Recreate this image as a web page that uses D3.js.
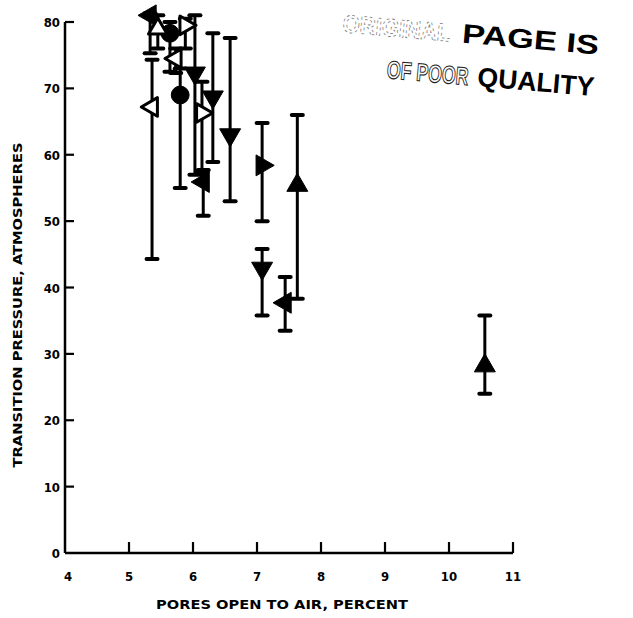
<!DOCTYPE html>
<html lang="en">
<head>
<meta charset="UTF-8">
<title>Transition pressure vs pores open to air</title>
<script src="https://d3js.org/d3.v7.min.js"></script>
<style>
  body { margin: 0; background: #fff; }
  svg text.axis-text { font-family: "DejaVu Sans Condensed", "DejaVu Sans", sans-serif; font-weight: bold; fill: #000; }
  svg text.stamp { font-family: "Liberation Sans", Arial, sans-serif; font-weight: bold; }
</style>
</head>
<body>
<div id="chart"></div>
<script>

// values
let poresOpen   = [5.36, 7.44, 7.63, 7.08, 7.08, 10.56, 6.58, 6.16, 6.31, 6.03, 5.80, 6.14, 5.33, 5.64, 5.88, 5.73, 5.45];
let pressure    = [67.2, 37.7, 55.4, 58.4, 42.9, 28.2, 63.0, 55.9, 68.7, 72.3, 69.0, 66.3, 81.0, 78.3, 79.5, 74.5, 79.0];
let pressureLow = [44.3, 33.5, 38.3, 50.0, 35.8, 24.0, 53.0, 50.8, 58.9, 57.0, 55.0, 57.4, 75.3, 72.5, 76.0, 72.3, 76.0];
let pressureHigh= [74.3, 41.6, 66.0, 64.8, 45.8, 35.8, 77.6, 57.7, 78.3, 81.0, 73.0, 71.0, 81.3, 80.0, 80.5, 76.0, 81.0];
let markerKind  = ["open-left", "filled-left", "filled-up", "filled-right", "filled-down", "filled-up",
                   "filled-down", "filled-left", "filled-down", "filled-down", "filled-circle", "open-right",
                   "filled-left", "filled-circle", "open-right", "open-left", "open-up"];

let xTicks = [4, 5, 6, 7, 8, 9, 10, 11];
let yTicks = [0, 10, 20, 30, 40, 50, 60, 70, 80];

const W = 633, H = 618;

const svg = d3.select("#chart").append("svg")
    .attr("width", W)
    .attr("height", H);

const x = d3.scaleLinear().domain([4, 11]).range([65, 513]);
const y = d3.scaleLinear().domain([0, 80]).range([553, 22]);

// axes
svg.append("line")
    .attr("x1", x(4)).attr("x2", x(4))
    .attr("y1", y(80)).attr("y2", y(0))
    .attr("stroke", "#000").attr("stroke-width", 2.5);
svg.append("line")
    .attr("x1", x(4)).attr("x2", x(11))
    .attr("y1", y(0)).attr("y2", y(0))
    .attr("stroke", "#000").attr("stroke-width", 2.5);

svg.selectAll("line.ytick")
    .data(yTicks.filter(d => d > 0))
    .enter().append("line")
    .attr("class", "ytick")
    .attr("x1", x(4)).attr("x2", x(4) + 9)
    .attr("y1", d => y(d)).attr("y2", d => y(d))
    .attr("stroke", "#000").attr("stroke-width", 2.2);

svg.selectAll("text.ylab")
    .data(yTicks)
    .enter().append("text")
    .attr("class", "ylab axis-text")
    .attr("x", 60)
    .attr("y", d => y(d) + 5)
    .attr("text-anchor", "end")
    .attr("font-size", 13)
    .text(d => d);

svg.selectAll("line.xtick")
    .data(xTicks.filter(d => d > 4))
    .enter().append("line")
    .attr("class", "xtick")
    .attr("x1", d => x(d)).attr("x2", d => x(d))
    .attr("y1", y(0)).attr("y2", y(0) - 11)
    .attr("stroke", "#000").attr("stroke-width", 2.2);

svg.selectAll("text.xlab")
    .data(xTicks)
    .enter().append("text")
    .attr("class", "xlab axis-text")
    .attr("x", d => x(d) + (d == 4 ? 3 : 0))
    .attr("y", 581)
    .attr("text-anchor", "middle")
    .attr("font-size", 13)
    .text(d => d);

svg.append("text")
    .attr("class", "axis-text")
    .attr("x", 282).attr("y", 609)
    .attr("text-anchor", "middle")
    .attr("font-size", 12.5)
    .attr("textLength", 252)
    .attr("lengthAdjust", "spacingAndGlyphs")
    .text("PORES OPEN TO AIR, PERCENT");

svg.append("text")
    .attr("class", "axis-text")
    .attr("transform", "translate(22,305) rotate(-90)")
    .attr("text-anchor", "middle")
    .attr("font-size", 12.5)
    .attr("textLength", 325)
    .attr("lengthAdjust", "spacingAndGlyphs")
    .text("TRANSITION PRESSURE, ATMOSPHERES");

// error bars
const pts = poresOpen.map((d, i) => ({x: d, y: pressure[i], lo: pressureLow[i], hi: pressureHigh[i], kind: markerKind[i]}));

svg.selectAll("line.bar")
    .data(pts)
    .enter().append("line")
    .attr("class", "bar")
    .attr("x1", d => x(d.x)).attr("x2", d => x(d.x))
    .attr("y1", d => y(d.lo)).attr("y2", d => y(d.hi))
    .attr("stroke", "#000").attr("stroke-width", 3);

const caps = pts.flatMap(d => [{x: d.x, v: d.lo}, {x: d.x, v: d.hi}]);
svg.selectAll("line.cap")
    .data(caps)
    .enter().append("line")
    .attr("class", "cap")
    .attr("x1", d => x(d.x) - 5.5).attr("x2", d => x(d.x) + 5.5)
    .attr("y1", d => y(d.v)).attr("y2", d => y(d.v))
    .attr("stroke", "#000").attr("stroke-width", 4)
    .attr("stroke-linecap", "round");

// markers
const rot = {up: 0, right: 90, down: 180, left: 270};
const tri = d3.symbol().type(d3.symbolTriangle).size(190)();
const triOpen = d3.symbol().type(d3.symbolTriangle).size(150)();
const circ = d3.symbol().type(d3.symbolCircle).size(250)();

svg.selectAll("path.mark")
    .data(pts)
    .enter().append("path")
    .attr("class", "mark")
    .attr("d", d => d.kind == "filled-circle" ? circ : (d.kind.startsWith("open") ? triOpen : tri))
    .attr("transform", d => {
        let dir = d.kind.split("-")[1];
        let r = rot[dir] || 0;
        return `translate(${x(d.x)},${y(d.y)}) rotate(${r})`;
    })
    .attr("fill", d => d.kind.startsWith("open") ? "#fff" : "#000")
    .attr("stroke", "#000")
    .attr("stroke-width", d => d.kind.startsWith("open") ? 3 : 1)
    .attr("stroke-linejoin", "round");

// stamp
const stamp = svg.append("g")
    .attr("transform", "translate(342,32) rotate(5)");

stamp.append("text")
    .attr("class", "stamp")
    .attr("x", 0).attr("y", 0)
    .attr("font-size", 25)
    .attr("textLength", 108)
    .attr("lengthAdjust", "spacingAndGlyphs")
    .style("fill", "none").style("stroke", "#777").style("stroke-width", 0.8)
    .style("stroke-dasharray", "3,3")
    .text("ORIGINAL");
stamp.append("text")
    .attr("class", "stamp")
    .attr("x", 120).attr("y", 0)
    .attr("font-size", 27)
    .attr("textLength", 137)
    .attr("lengthAdjust", "spacingAndGlyphs")
    .style("fill", "#000")
    .text("PAGE IS");

stamp.append("text")
    .attr("class", "stamp")
    .attr("x", 48).attr("y", 42)
    .attr("font-size", 25)
    .attr("textLength", 82)
    .attr("lengthAdjust", "spacingAndGlyphs")
    .style("fill", "none").style("stroke", "#222").style("stroke-width", 1.1)
    .text("OF POOR");
stamp.append("text")
    .attr("class", "stamp")
    .attr("x", 139).attr("y", 42)
    .attr("font-size", 27)
    .attr("textLength", 117)
    .attr("lengthAdjust", "spacingAndGlyphs")
    .style("fill", "#000")
    .text("QUALITY");

</script>
</body>
</html>
